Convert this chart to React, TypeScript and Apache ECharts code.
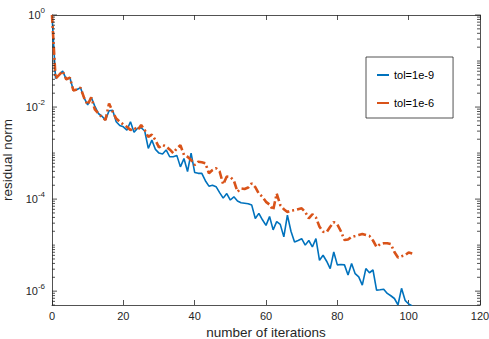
import React, { useEffect, useRef } from "react";
import * as echarts from "echarts";

const iterations: number[] = [
  0, 1, 2, 3, 4, 5, 6, 7, 8, 9, 10, 11, 12, 13, 14, 15, 16, 17, 18, 19,
  20, 21, 22, 23, 24, 25, 26, 27, 28, 29, 30, 31, 32, 33, 34, 35, 36, 37, 38, 39,
  40, 41, 42, 43, 44, 45, 46, 47, 48, 49, 50, 51, 52, 53, 54, 55, 56, 57, 58, 59,
  60, 61, 62, 63, 64, 65, 66, 67, 68, 69, 70, 71, 72, 73, 74, 75, 76, 77, 78, 79,
  80, 81, 82, 83, 84, 85, 86, 87, 88, 89, 90, 91, 92, 93, 94, 95, 96, 97, 98, 99,
  100, 101,
];

const residualTol9: number[] = [
  1, 4.17e-2, 5.01e-2, 6.03e-2, 3.98e-2, 4.37e-2, 2.29e-2, 2.4e-2, 2.63e-2, 1.58e-2,
  1.12e-2, 1.62e-2, 1.05e-2, 7.24e-3, 6.31e-3, 5.25e-3, 8.32e-3, 8.51e-3, 4.79e-3, 3.98e-3,
  3.72e-3, 3.16e-3, 4.79e-3, 2.82e-3, 3.47e-3, 3.55e-3, 3.02e-3, 1.26e-3, 1.91e-3, 1.2e-3,
  1.0e-3, 9.55e-4, 1.17e-3, 8.32e-4, 8.32e-4, 8.91e-4, 5.01e-4, 7.59e-4, 3.98e-4, 1.0e-3,
  3.8e-4, 3.63e-4, 3.63e-4, 2.51e-4, 1.91e-4, 2.0e-4, 1.86e-4, 1.38e-4, 1.05e-4, 1.32e-4,
  9.55e-5, 1.12e-4, 9.12e-5, 8.32e-5, 8.13e-5, 7.94e-5, 7.41e-5, 3.8e-5, 4.9e-5, 3.55e-5,
  2.69e-5, 4.17e-5, 2.14e-5, 3.24e-5, 2.82e-5, 1.51e-5, 4.47e-5, 2.0e-5, 1.17e-5, 1.26e-5,
  1.38e-5, 1.0e-5, 1.26e-5, 9.12e-6, 1.38e-5, 4.68e-6, 6.03e-6, 4.47e-6, 3.09e-6, 7.08e-6,
  3.72e-6, 3.8e-6, 3.72e-6, 2.24e-6, 3.98e-6, 2.4e-6, 2.04e-6, 1.35e-6, 3.09e-6, 2.51e-6,
  2.88e-6, 1.05e-6, 1.07e-6, 1.1e-6, 8.91e-7, 7.94e-7, 6.92e-7, 5.01e-7, 1.15e-6, 6.31e-7,
  5.25e-7, 4.79e-7,
];

const residualTol6: number[] = [
  1, 4.17e-2, 5.01e-2, 6.03e-2, 3.98e-2, 4.37e-2, 2.29e-2, 2.4e-2, 2.63e-2, 1.58e-2,
  1.12e-2, 1.62e-2, 8.91e-3, 7.24e-3, 6.03e-3, 5.25e-3, 1.2e-2, 7.94e-3, 5.62e-3, 4.79e-3,
  4.17e-3, 3.72e-3, 3.16e-3, 3.55e-3, 3.16e-3, 4.07e-3, 3.16e-3, 2.24e-3, 2.51e-3, 1.91e-3,
  1.32e-3, 1.51e-3, 1.38e-3, 1.2e-3, 1.0e-3, 1.26e-3, 1.48e-3, 9.12e-4, 8.32e-4, 7.08e-4,
  5.5e-4, 6.46e-4, 6.31e-4, 6.03e-4, 3.63e-4, 4.27e-4, 4.68e-4, 3.98e-4, 2.09e-4, 3.09e-4,
  3.02e-4, 2.51e-4, 1.45e-4, 1.7e-4, 1.66e-4, 1.78e-4, 2.19e-4, 1.82e-4, 1.32e-4, 1.12e-4,
  8.71e-5, 7.59e-5, 5.75e-5, 1.32e-4, 7.41e-5, 6.03e-5, 5.25e-5, 5.62e-5, 5.75e-5, 6.03e-5,
  6.31e-5, 5.25e-5, 3.8e-5, 4.68e-5, 3.98e-5, 2.51e-5, 1.95e-5, 1.91e-5, 2.51e-5, 3.16e-5,
  2.82e-5, 2.0e-5, 1.29e-5, 1.32e-5, 1.51e-5, 1.58e-5, 1.66e-5, 1.74e-5, 1.66e-5, 1.58e-5,
  1.26e-5, 9.12e-6, 1.05e-5, 1.1e-5, 1.1e-5, 1.05e-5, 7.08e-6, 5.37e-6, 5.75e-6, 6.03e-6,
  6.92e-6, 6.61e-6,
];

const seriesNames: string[] = ["tol=1e-9", "tol=1e-6"];
const xTicks: number[] = [0, 20, 40, 60, 80, 100, 120];
const yLabelExponents: number[] = [0, -2, -4, -6];

const X_MIN = 0;
const X_MAX = 120;
const Y_MIN = 5e-7;
const Y_MAX = 1;

const BLUE = "#0072BD";
const ORANGE = "#D95319";
const AXIS_COLOR = "#262626";
const FONT = "'Liberation Sans', Arial, Helvetica, sans-serif";

export default function App() {
  const ref = useRef<HTMLDivElement>(null);

  useEffect(() => {
    if (!ref.current) return;
    const chart = echarts.init(ref.current, undefined, { renderer: "svg" });

    // tick positions for the log axis (decades and 2..9 multiples)
    const logTicks: number[][] = [];
    for (let e = -7; e <= 0; e++) {
      for (let m = 1; m <= 9; m++) {
        const v = m * Math.pow(10, e);
        if (v >= Y_MIN * 0.9999 && v <= Y_MAX * 1.0001)
          logTicks.push([X_MIN, v, m === 1 && yLabelExponents.includes(e) ? 1 : 0]);
      }
    }

    const option: any = {
      animation: false,
      backgroundColor: "#ffffff",
      textStyle: { fontFamily: FONT },
      grid: { left: 52, right: 9, top: 15, bottom: 34, containLabel: false, outerBoundsMode: "none" },
      legend: {
        data: [
          { name: seriesNames[0], icon: "rect", itemStyle: { color: BLUE } },
          { name: seriesNames[1], icon: "rect", itemStyle: { color: ORANGE } },
        ],
        orient: "vertical",
        left: 366,
        top: 57,
        padding: [11, 19, 8, 11],
        itemGap: 14,
        itemWidth: 12,
        itemHeight: 2,
        borderColor: AXIS_COLOR,
        borderWidth: 0.8,
        borderRadius: 0,
        backgroundColor: "#ffffff",
        textStyle: { fontSize: 11, color: "#000000", fontFamily: FONT, lineHeight: 14, height: 14 },
      },
      xAxis: [
        {
          type: "value",
          min: X_MIN,
          max: X_MAX,
          interval: 20,
          position: "bottom",
          name: "number of iterations",
          nameLocation: "middle",
          nameGap: 15,
          nameTextStyle: { fontSize: 13.5, color: AXIS_COLOR, fontFamily: FONT },
          axisLine: { show: true, onZero: false, lineStyle: { color: AXIS_COLOR, width: 0.8 } },
          axisTick: { show: true, inside: true, length: 5, lineStyle: { color: AXIS_COLOR, width: 0.8 } },
          axisLabel: {
            show: true,
            margin: 5,
            fontSize: 11,
            color: AXIS_COLOR,
            fontFamily: FONT,
            formatter: (v: number) => (xTicks.includes(v) ? String(v) : ""),
          },
          splitLine: { show: false },
        },
        {
          type: "value",
          min: X_MIN,
          max: X_MAX,
          interval: 20,
          position: "top",
          axisLine: { show: true, onZero: false, lineStyle: { color: AXIS_COLOR, width: 0.8 } },
          axisTick: { show: true, inside: true, length: 5, lineStyle: { color: AXIS_COLOR, width: 0.8 } },
          axisLabel: { show: false },
          splitLine: { show: false },
        },
      ],
      yAxis: [
        {
          type: "log",
          logBase: 10,
          min: Y_MIN,
          max: Y_MAX,
          position: "left",
          name: "residual norm",
          nameLocation: "middle",
          nameGap: 30,
          nameTextStyle: { fontSize: 13.5, color: AXIS_COLOR, fontFamily: FONT },
          axisLine: { show: true, onZero: false, lineStyle: { color: AXIS_COLOR, width: 0.8 } },
          axisTick: { show: false },
          axisLabel: {
            show: true,
            margin: 7,
            color: AXIS_COLOR,
            fontFamily: FONT,
            formatter: (v: number) => {
              const e = Math.log10(v);
              const r = Math.round(e);
              if (Math.abs(e - r) > 1e-6 || !yLabelExponents.includes(r)) return "";
              return `{b|10}{s|${r === 0 ? 0 : r}}`;
            },
            rich: {
              b: { fontSize: 11, color: AXIS_COLOR, fontFamily: FONT, lineHeight: 18, verticalAlign: "middle" },
              s: { fontSize: 8, color: AXIS_COLOR, fontFamily: FONT, lineHeight: 8, verticalAlign: "top" },
            },
          },
          splitLine: { show: false },
        },
        {
          type: "log",
          logBase: 10,
          min: Y_MIN,
          max: Y_MAX,
          position: "right",
          axisLine: { show: true, onZero: false, lineStyle: { color: AXIS_COLOR, width: 0.8 } },
          axisTick: { show: false },
          axisLabel: { show: false },
          splitLine: { show: false },
        },
      ],
      series: [
        {
          name: seriesNames[0],
          type: "line",
          xAxisIndex: 0,
          yAxisIndex: 0,
          data: iterations.map((it, i) => [it, residualTol9[i]]),
          symbol: "none",
          lineStyle: { color: BLUE, width: 1.6, type: "solid" },
          itemStyle: { color: BLUE },
          z: 2,
        },
        {
          name: seriesNames[1],
          type: "line",
          xAxisIndex: 0,
          yAxisIndex: 0,
          data: iterations.map((it, i) => [it, residualTol6[i]]),
          symbol: "none",
          lineStyle: { color: ORANGE, width: 2.6, type: [8, 3, 2, 3] },
          itemStyle: { color: ORANGE },
          z: 3,
        },
        {
          type: "custom",
          silent: true,
          xAxisIndex: 0,
          yAxisIndex: 0,
          clip: false,
          z: 4,
          data: logTicks,
          encode: { x: 0, y: 1 },
          renderItem: (_params: any, api: any) => {
            const v = api.value(1);
            const major = api.value(2) === 1;
            const pL = api.coord([X_MIN, v]);
            const pR = api.coord([X_MAX, v]);
            const len = major ? 5 : 3;
            const style = { stroke: AXIS_COLOR, lineWidth: 0.8 };
            return {
              type: "group",
              children: [
                { type: "line", shape: { x1: pL[0], y1: pL[1], x2: pL[0] + len, y2: pL[1] }, style },
                { type: "line", shape: { x1: pR[0], y1: pR[1], x2: pR[0] - len, y2: pR[1] }, style },
              ],
            };
          },
        },
      ],
    };

    chart.setOption(option);
    return () => chart.dispose();
  }, []);

  return (
    <div
      ref={ref}
      style={{ position: "absolute", left: 0, top: 0, width: 489, height: 339 }}
    />
  );
}
